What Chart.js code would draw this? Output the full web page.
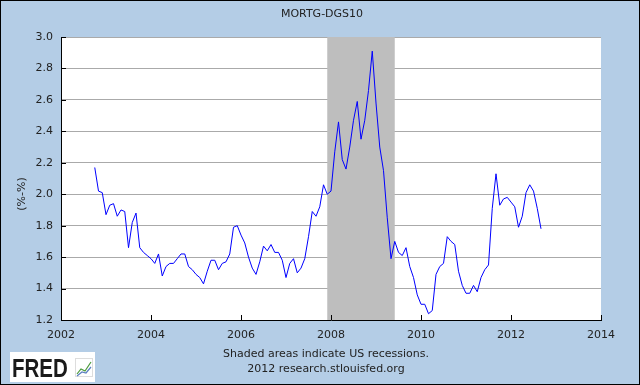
<!DOCTYPE html>
<html>
<head>
<meta charset="utf-8">
<script src="https://cdn.jsdelivr.net/npm/chart.js@4.4.0/dist/chart.umd.min.js"></script>
<style>
  html, body { margin: 0; padding: 0; background: #b4cde6; }
  #wrap { width: 640px; height: 385px; }
</style>
</head>
<body>
<div id="wrap"><canvas id="chart" width="640" height="385"></canvas></div>
<script>
// monthly spread MORTG - DGS10, first month is Oct 2002
const startMonth = '2002-10';
const spreadValues = [
    2.17, 2.02, 2.01,
    1.87, 1.93, 1.94, 1.86, 1.90, 1.89, 1.66, 1.82, 1.88, 1.66, 1.63, 1.61,
    1.59, 1.56, 1.62, 1.48, 1.54, 1.56, 1.56, 1.59, 1.62, 1.62, 1.54, 1.52,
    1.49, 1.47, 1.43, 1.51, 1.58, 1.58, 1.52, 1.56, 1.57, 1.62, 1.79, 1.80,
    1.74, 1.69, 1.60, 1.53, 1.49, 1.57, 1.67, 1.64, 1.68, 1.63, 1.63, 1.58,
    1.47, 1.56, 1.59, 1.50, 1.53, 1.59, 1.73, 1.89, 1.86, 1.92, 2.06, 2.00,
    2.02, 2.27, 2.46, 2.22, 2.16, 2.30, 2.47, 2.59, 2.35, 2.47, 2.66, 2.91,
    2.58, 2.30, 2.15, 1.85, 1.59, 1.70, 1.63, 1.61, 1.66, 1.54, 1.47, 1.36,
    1.30, 1.30, 1.24, 1.26, 1.49, 1.54, 1.56, 1.73, 1.70, 1.68, 1.51, 1.42,
    1.37, 1.37, 1.42, 1.38, 1.47, 1.52, 1.55, 1.91, 2.13, 1.93, 1.97, 1.98,
    1.95, 1.92, 1.79, 1.86, 2.01, 2.06, 2.02, 1.91, 1.78
];
const recessions = [['2007-12', '2009-06']];
const yTicks = [1.2, 1.4, 1.6, 1.8, 2.0, 2.2, 2.4, 2.6, 2.8, 3.0];
const xTicks = [2002, 2004, 2006, 2008, 2010, 2012, 2014];

const FONT = '"DejaVu Sans", Verdana, sans-serif';
const TEXT = '#222';

// "YYYY-MM" -> decimal year
function toYear(s) {
    const [y, m] = s.split('-').map(Number);
    return y + (m - 1) / 12;
}

const x0 = toYear(startMonth);
const points = spreadValues.map((v, i) => ({ x: x0 + i / 12, y: v }));

// recession shading, under the line
const shadePlugin = {
    id: 'shade',
    beforeDatasetsDraw(chart) {
        const { ctx, chartArea, scales } = chart;
        ctx.save();
        ctx.fillStyle = '#bebebe';
        recessions.forEach(r => {
            const a = scales.x.getPixelForValue(toYear(r[0]));
            const b = scales.x.getPixelForValue(toYear(r[1]));
            ctx.fillRect(a, chartArea.top, b - a, chartArea.bottom - chartArea.top);
        });
        ctx.restore();
    }
};

// inner ticks, texts, logo, frame
const decorPlugin = {
    id: 'decor',
    afterDraw(chart) {
        const { ctx, chartArea, scales } = chart;
        ctx.save();
        ctx.strokeStyle = '#000';
        ctx.lineWidth = 1;
        ctx.beginPath();
        yTicks.forEach(t => {
            const y = Math.round(scales.y.getPixelForValue(t)) + 0.5;
            ctx.moveTo(chartArea.left, y);
            ctx.lineTo(chartArea.left + 5, y);
        });
        xTicks.forEach(t => {
            const x = Math.round(scales.x.getPixelForValue(t)) + 0.5;
            ctx.moveTo(x, chartArea.bottom);
            ctx.lineTo(x, chartArea.bottom - 5);
        });
        ctx.stroke();

        ctx.fillStyle = TEXT;
        ctx.font = '11px ' + FONT;
        ctx.textAlign = 'center';
        ctx.textBaseline = 'middle';
        ctx.fillText('MORTG-DGS10', 322, 14);
        ctx.fillText('Shaded areas indicate US recessions.', 326, 354);
        ctx.fillText('2012 research.stlouisfed.org', 326, 369);

        ctx.save();
        ctx.translate(22, 194);
        ctx.rotate(-Math.PI / 2);
        ctx.fillText('(%-%)', 0, 0);
        ctx.restore();

        // FRED logo
        ctx.fillStyle = '#fff';
        ctx.fillRect(10, 352, 85, 30);
        ctx.fillStyle = '#1a1a1a';
        ctx.save();
        ctx.translate(12, 377);
        ctx.scale(0.82, 1);
        ctx.font = 'bold 25px "Liberation Sans", Arial, sans-serif';
        ctx.textAlign = 'left';
        ctx.textBaseline = 'alphabetic';
        ctx.fillText('FRED', 0, 0);
        ctx.restore();
        ctx.strokeStyle = '#ddd';
        ctx.strokeRect(75.5, 358.5, 17, 18);
        ctx.lineWidth = 1.2;
        ctx.strokeStyle = '#4a9a3a';
        ctx.beginPath();
        ctx.moveTo(77, 374); ctx.lineTo(81, 369); ctx.lineTo(85, 371); ctx.lineTo(91, 362);
        ctx.stroke();
        ctx.strokeStyle = '#5b7fc0';
        ctx.beginPath();
        ctx.moveTo(77, 376); ctx.lineTo(82, 372); ctx.lineTo(86, 373); ctx.lineTo(91, 367);
        ctx.stroke();

        ctx.lineWidth = 1;
        ctx.strokeStyle = '#000';
        ctx.strokeRect(0.5, 0.5, 639, 384);
        ctx.restore();
    }
};

const bgPlugin = {
    id: 'bg',
    beforeDraw(chart) {
        const { ctx, chartArea } = chart;
        ctx.save();
        ctx.fillStyle = '#b4cde6';
        ctx.fillRect(0, 0, chart.width, chart.height);
        ctx.fillStyle = '#fff';
        ctx.fillRect(chartArea.left, chartArea.top, chartArea.right - chartArea.left, chartArea.bottom - chartArea.top);
        ctx.restore();
    }
};

new Chart(document.getElementById('chart').getContext('2d'), {
    type: 'line',
    data: {
        datasets: [{
            label: 'MORTG-DGS10',
            data: points,
            borderColor: '#0000ff',
            borderWidth: 1,
            pointRadius: 0,
            tension: 0,
            fill: false
        }]
    },
    options: {
        responsive: false,
        animation: false,
        layout: { padding: { top: 37, right: 39, bottom: 40, left: 0 } },
        plugins: { legend: { display: false }, tooltip: { enabled: false } },
        scales: {
            x: {
                type: 'linear',
                min: 2002,
                max: 2014,
                afterFit(scale) { scale.height = 25; },
                afterBuildTicks(scale) { scale.ticks = xTicks.map(v => ({ value: v })); },
                grid: { display: false, drawTicks: false },
                border: { display: true, color: '#000', width: 1 },
                ticks: {
                    padding: 9,
                    color: TEXT,
                    font: { family: FONT, size: 11 },
                    maxRotation: 0,
                    callback: v => String(v)
                }
            },
            y: {
                min: 1.2,
                max: 3.0,
                afterFit(scale) { scale.width = 61; },
                afterBuildTicks(scale) { scale.ticks = yTicks.map(v => ({ value: v })); },
                grid: {
                    color: ctx => ctx.tick && ctx.tick.value === 1.2 ? 'rgba(0,0,0,0)' : '#aaaaaa',
                    drawTicks: false,
                    lineWidth: 1
                },
                border: { display: true, color: '#000', width: 1 },
                ticks: {
                    padding: 8,
                    color: TEXT,
                    font: { family: FONT, size: 11 },
                    callback: v => Number(v).toFixed(1)
                }
            }
        }
    },
    plugins: [bgPlugin, shadePlugin, decorPlugin]
});
</script>
</body>
</html>
